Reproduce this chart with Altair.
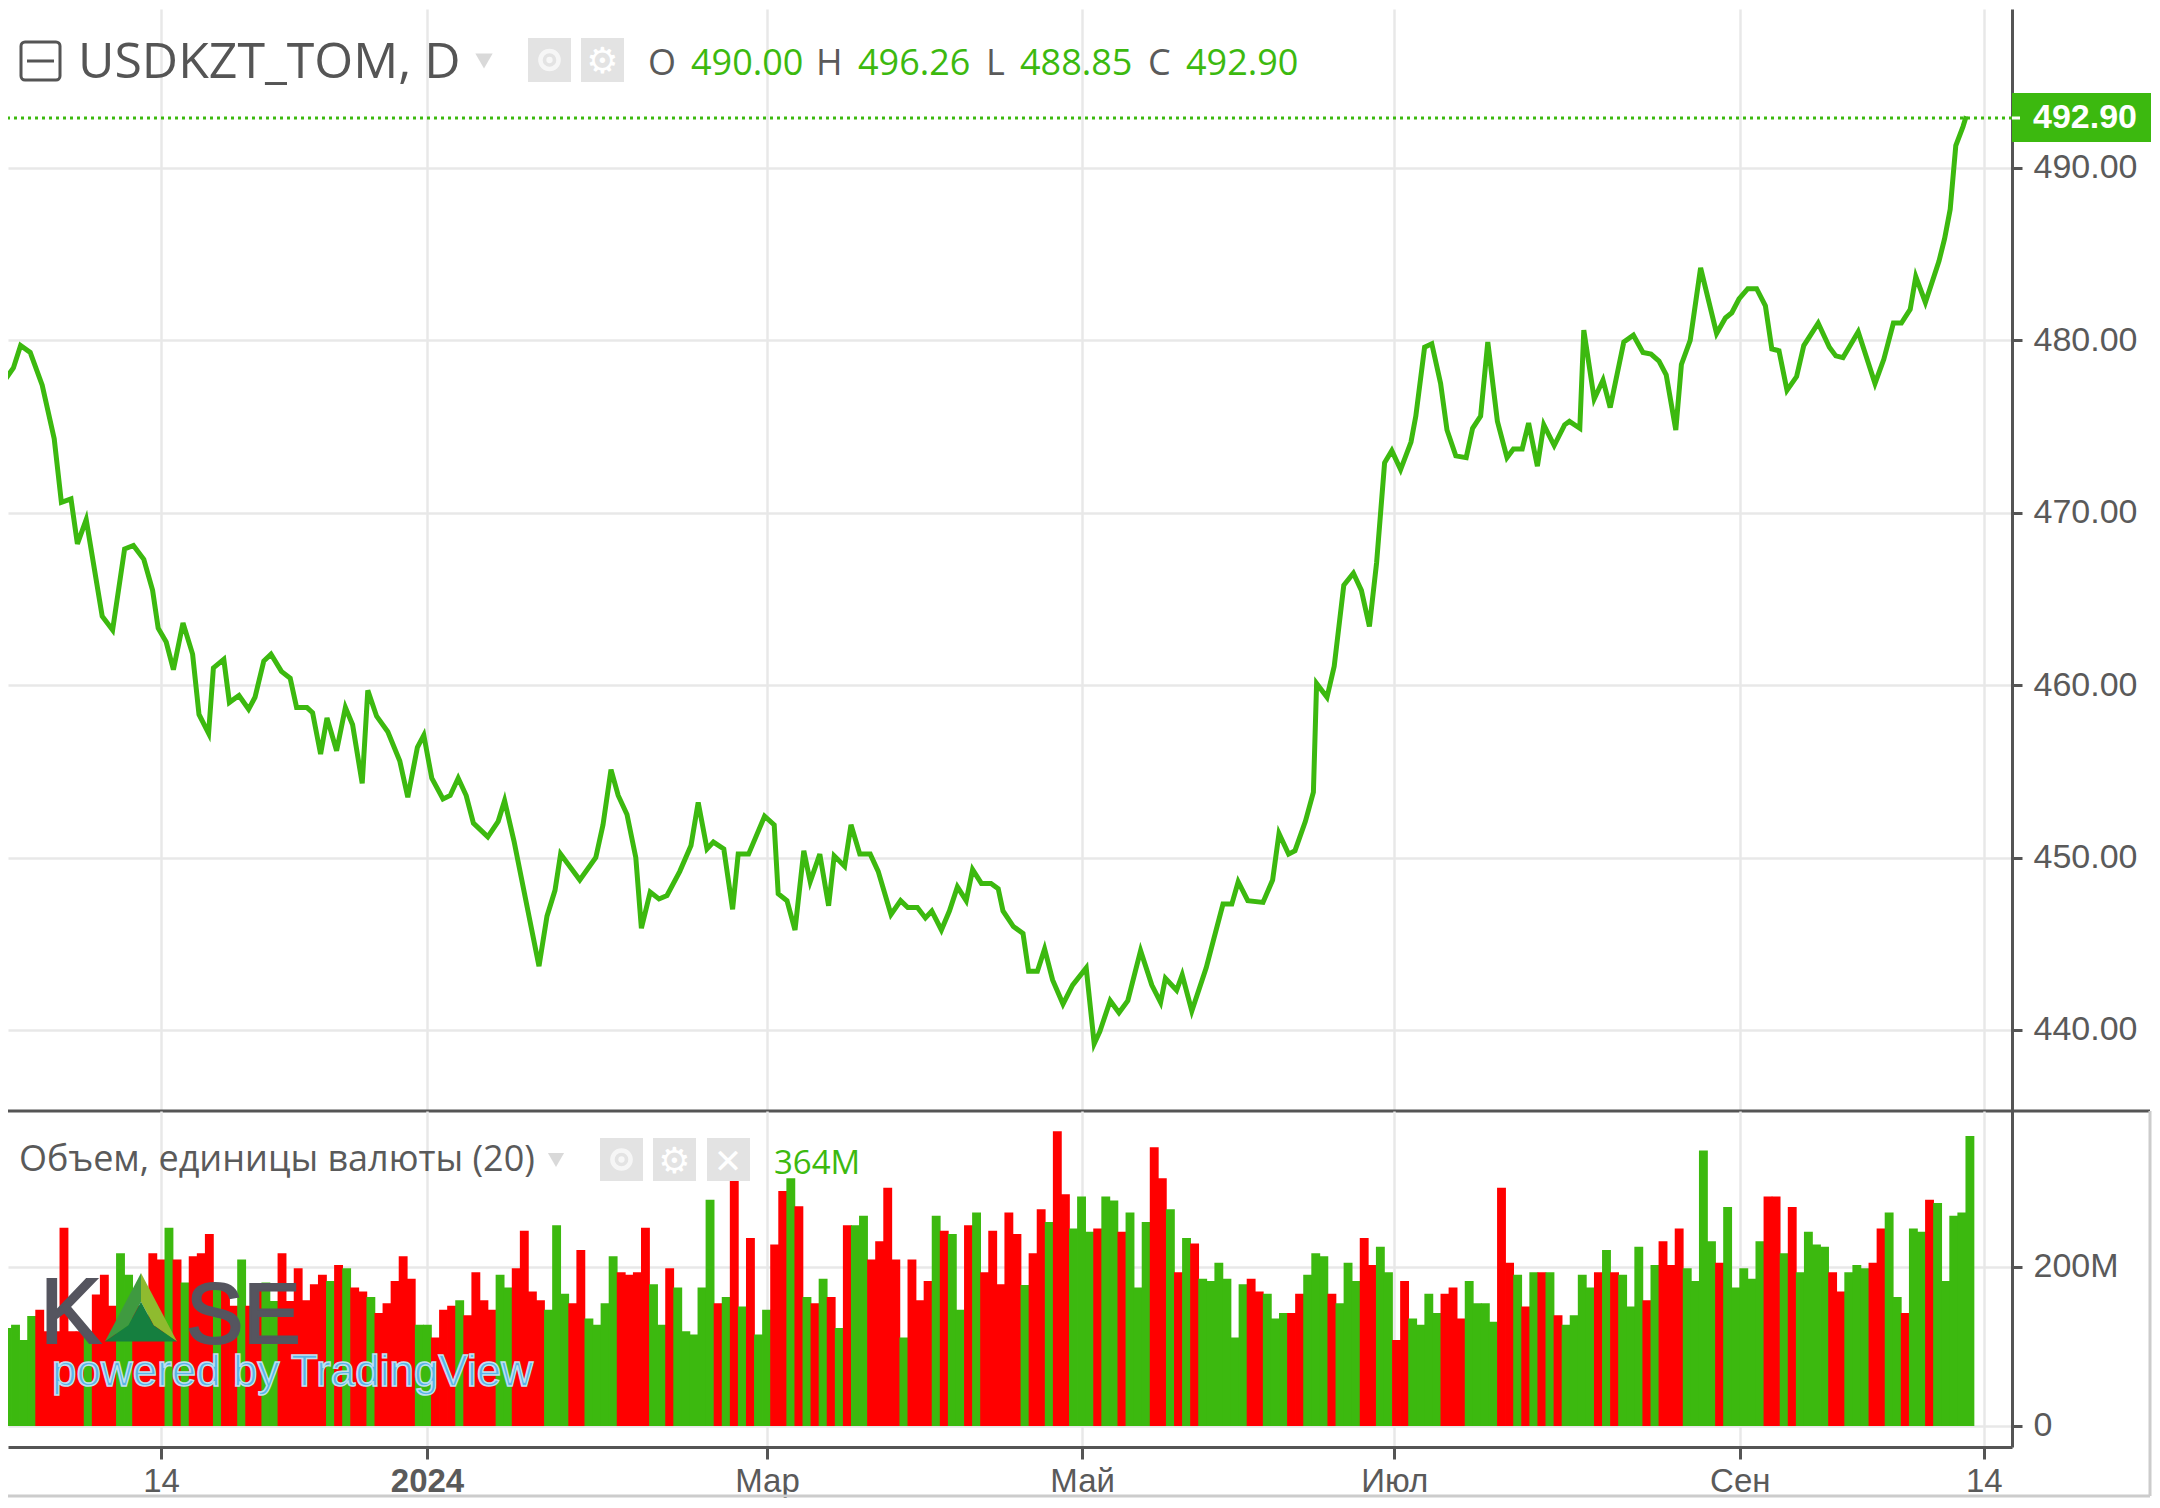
import json

import altair as alt
import pandas as pd

GREEN = "#3cb90f"
RED = "#ff0000"
GRID = "#e8e8e8"
AXIS = "#555555"
TEXT = "#5a5a5a"
ICON = "#e3e3e3"

# volume in millions, one bar per session
bar_volume = [
    123, 127, 108, 138, 146, 119, 119, 249, 119, 119, 119, 165, 190, 151, 217, 190, 151, 132, 217, 209, 249, 209,
    180, 213, 217, 241, 174, 176, 151, 209, 151, 174, 180, 157, 217, 157, 198, 158, 178, 190, 182, 202, 198, 174,
    169, 162, 142, 154, 182, 213, 185, 127, 127, 111, 146, 151, 158, 139, 193, 158, 146, 190, 174, 198, 245, 169,
    158, 146, 252, 166, 154, 221, 135, 127, 154, 213, 193, 190, 193, 249, 178, 127, 198, 174, 119, 115, 174, 284,
    154,
    162, 335, 150, 236, 115, 146, 228, 295, 311, 276, 162, 154, 185, 162, 123, 252, 252, 264, 209, 232, 299, 209,
    111, 209, 158, 182, 264, 245, 241, 146, 252, 268, 193, 245, 178, 268, 241, 177, 217, 272, 256, 370, 291, 248,
    288, 244, 248, 288, 283, 244, 268, 174, 256, 350, 311, 272, 193, 236, 229, 185, 182, 205, 185, 111, 178, 185,
    169, 166, 135, 142, 142, 166, 190, 217, 213, 166, 154, 205, 182, 236, 202, 225, 193, 108, 182, 135, 127, 166,
    142,
    166, 174, 135, 182, 154, 154, 131, 299, 205, 190, 150, 193, 193, 193, 139, 127, 139, 190, 174, 193, 221, 193,
    190, 150, 225, 158, 202, 232, 202, 248, 198, 182, 346, 232, 205, 275, 174, 198, 185, 232, 288, 288, 217, 275,
    193, 244, 228, 225, 193, 169, 193, 202, 198, 205, 248, 268, 162, 142, 248, 244, 284, 280, 182, 264, 268, 364,
]
bar_side = (
    "GGGG RRRRRR G RRR GG RRRR G R G RRR G RR G RR GG RRRRRR G R G RR G RRRRR GG RRR G RRRR GG RRRR GGG RR GGGG RRRR GG R GGGGG R"
    "G R G R GG RR G R G R G R G R GG RRRR G RRR G R GG R G RRRRR G RR G RR GGG R GG R GGG RR G R G R GGGGGG RR GGG RR GGG R GGG RR GG RR GGGG"
    "RRR GGGG RR G R G R G R GGGG R G R GGG R G RRR GGGG R GGGGG RR G R GGGG RR GGG RR GG R GG R GGGGG"
).replace(" ", "")
assert len(bar_side) == len(bar_volume)

# close price read at the visible corners of the line
line_pos = [
    0.1, 1.3, 2.2, 3.4, 4.9, 6.4, 7.3, 8.5, 9.3, 10.4, 12.4, 13.7, 15.2, 16.3, 17.6, 18.7, 19.4, 20.4, 21.3, 22.5,
    23.7, 24.5, 25.7, 26.3, 27.6, 28.3, 29.5, 30.7, 31.5, 32.6, 33.5, 34.8, 35.9, 36.7, 38.0, 38.7, 39.7, 40.5,
    41.7, 42.8, 43.7, 44.9, 45.6, 46.7, 48.1, 49.6, 50.6, 51.8, 52.6, 53.6, 55.0, 55.9, 56.9, 57.9, 58.8, 60.6,
    61.9, 62.7, 63.9, 67.0, 68.0, 69.0, 69.7, 72.1, 74.1, 75.0, 76.0, 76.9, 78.0, 79.1, 79.8, 80.9, 82.0, 83.0,
    84.6, 86.0, 86.9, 88.0, 88.8, 90.1, 91.2, 91.9, 93.2, 95.2, 96.4, 96.9, 98.0, 99.0, 100.1, 100.9, 102.1, 103.2,
    103.9, 105.2, 106.0, 107.1, 108.4, 109.4, 111.0, 112.2, 113.1, 114.3, 115.3, 116.1, 117.3, 118.3, 119.3, 120.4,
    121.2, 122.3, 123.5, 124.4, 125.0, 126.3, 127.5, 128.2, 129.3, 130.2, 131.2, 132.5, 133.7, 135.4, 136.4, 137.1,
    138.4, 139.5, 140.6, 142.2, 143.6, 144.7, 145.3, 146.7, 147.4, 148.6, 150.4, 151.3, 152.5, 153.6, 154.4, 155.6,
    157.5, 158.7, 159.5, 160.7, 161.5, 162.8, 163.8, 164.2, 165.5, 166.4, 167.6, 168.8, 169.8, 170.8, 171.7, 172.7,
    173.6, 174.7, 176.0, 176.6, 177.7, 178.6, 179.7, 180.5, 181.6, 182.9, 183.7, 184.7, 185.6, 186.8, 188.0, 188.8,
    189.9, 190.7, 191.8, 192.6, 193.9, 195.2, 195.8, 197.1, 197.6, 198.9, 200.0, 200.9, 202.6, 203.8, 205.0, 206.0,
    207.0, 207.9, 209.1, 209.8, 210.9, 212.2, 214.2, 215.3, 216.1, 217.0, 218.1, 219.2, 220.3, 221.1, 222.0, 223.0,
    224.2, 225.1, 226.9, 228.3, 229.1, 230.0, 231.9, 234.0, 235.1, 236.3, 237.3, 238.4, 239.1, 240.3, 242.0, 242.7,
    243.4, 244.1, 245.0, 245.4,
]
line_price = [
    477.6, 478.4, 479.7, 479.3, 477.4, 474.3, 470.6, 470.8, 468.2, 469.6, 464.0, 463.2, 467.9, 468.1, 467.3, 465.5,
    463.3, 462.5, 460.9, 463.6, 461.8, 458.3, 457.2, 461.0, 461.5, 459.0, 459.4, 458.6, 459.3, 461.4, 461.8, 460.8,
    460.4, 458.7, 458.7, 458.4, 456.0, 458.1, 456.2, 458.7, 457.7, 454.3, 459.7, 458.2, 457.3, 455.6, 453.5, 456.4,
    457.1, 454.6, 453.4, 453.6, 454.6, 453.6, 452.0, 451.2, 452.1, 453.3, 450.9, 443.7, 446.6, 448.1, 450.2, 448.7,
    450.0, 451.9, 455.1, 453.6, 452.5, 450.0, 445.9, 448.0, 447.6, 447.8, 449.2, 450.7, 453.2, 450.5, 450.9, 450.5,
    447.0, 450.2, 450.2, 452.4, 451.9, 447.9, 447.5, 445.8, 450.4, 448.6, 450.2, 447.2, 450.1, 449.5, 451.9, 450.2,
    450.2, 449.2, 446.7, 447.5, 447.1, 447.1, 446.5, 446.9, 445.8, 446.9, 448.3, 447.5, 449.3, 448.5, 448.5, 448.2,
    446.9, 446.0, 445.6, 443.4, 443.4, 444.7, 442.9, 441.5, 442.6, 443.6, 439.2, 439.9, 441.7, 441.0, 441.7, 444.6,
    442.6, 441.6, 443.0, 442.3, 443.2, 441.1, 443.6, 445.2, 447.3, 447.3, 448.6, 447.5, 447.4, 448.7, 451.4, 450.2,
    450.4, 452.1, 453.8, 460.1, 459.3, 461.1, 465.8, 466.5, 465.5, 463.4, 467.1, 472.9, 473.6, 472.5, 474.1, 475.6,
    479.6, 479.8, 477.5, 474.8, 473.3, 473.2, 474.9, 475.6, 479.9, 475.3, 473.2, 473.7, 473.7, 475.2, 472.7, 475.1,
    473.9, 475.1, 475.3, 474.9, 480.6, 476.6, 477.7, 476.1, 479.9, 480.3, 479.3, 479.2, 478.8, 478.0, 474.8, 478.6,
    480.0, 484.2, 480.4, 481.3, 481.6, 482.4, 483.0, 483.0, 482.0, 479.5, 479.4, 477.1, 477.9, 479.7, 481.0, 479.6,
    479.1, 479.0, 480.5, 477.5, 478.9, 481.0, 481.0, 481.8, 483.7, 482.2, 484.6, 485.9, 487.6, 491.3, 492.4, 493.0,
]
assert len(line_pos) == len(line_price)

last_price = [492.90]
price_ticks = [440, 450, 460, 470, 480, 490]
volume_ticks = [0, 200]
date_ticks = [19.75, 53, 95.5, 134.9, 173.9, 217.1, 247.6]
date_labels = ["14", "2024", "Мар", "Май", "Июл", "Сен", "14"]

ohlc_letters = ["O", "H", "L", "C"]
ohlc_values = ["490.00", "496.26", "488.85", "492.90"]

BAR_STEP = 1.0095  # one session in line_pos units
X_DOMAIN = [0.625, 251.125]
WIDTH = 2004
TOP_HEIGHT = 1102
BOTTOM_HEIGHT = 336
TOP_Y = 8
BOTTOM_Y = 1110

bars = pd.DataFrame(
    {
        "left": [i * BAR_STEP for i in range(len(bar_volume))],
        # a hair of overlap so neighbouring bars of one colour read as solid
        "right": [(i + 1) * BAR_STEP + 0.1 for i in range(len(bar_volume))],
        "volume": bar_volume,
        "base": [0] * len(bar_volume),
        "side": list(bar_side),
    }
)
line = pd.DataFrame({"pos": line_pos, "price": line_price})
last = pd.DataFrame({"price": last_price, "text": ["492.90"]})
one = pd.DataFrame({"a": [0]})

label_expr = f"{json.dumps(date_labels, ensure_ascii=False)}[indexof({json.dumps(date_ticks)}, datum.value)]"


def label(text, x, y, top, size, color=TEXT, font="Open Sans", weight="normal", align="left", **kw):
    return (
        alt.Chart(pd.DataFrame({"t": [text]}))
        .mark_text(align=align, baseline="alphabetic", font=font, fontSize=size, color=color, fontWeight=weight, **kw)
        .encode(x=alt.value(x - 8), y=alt.value(y - top), text="t:N")
    )


def box(x0, x1, y0, y1, top, **kw):
    return (
        alt.Chart(one)
        .mark_rect(**kw)
        .encode(x=alt.value(x0 - 8), x2=alt.value(x1 - 8), y=alt.value(y0 - top), y2=alt.value(y1 - top))
    )


def bar_line(x0, x1, y0, y1, top, color=AXIS, width=3.0):
    return (
        alt.Chart(one)
        .mark_rule(color=color, strokeWidth=width)
        .encode(x=alt.value(x0 - 8), x2=alt.value(x1 - 8), y=alt.value(y0 - top), y2=alt.value(y1 - top))
    )


def dot(x, y, top, **kw):
    return alt.Chart(one).mark_point(**kw).encode(x=alt.value(x - 8), y=alt.value(y - top))


def eye_gear(x_eye, x_gear, y0, y1, top):
    mid = (y0 + y1) / 2
    return [
        box(x_eye, x_eye + 43, y0, y1, top, color=ICON),
        dot(x_eye + 21.5, mid, top, shape="circle", size=330, color="white", strokeWidth=4.5, filled=False),
        dot(x_eye + 21.5, mid, top, shape="circle", size=40, color="white", filled=True),
        box(x_gear, x_gear + 43, y0, y1, top, color=ICON),
        label("⚙", x_gear + 21.5, mid + 13, top, 36, color="white", font="DejaVu Sans", align="center"),
    ]


price_axis = alt.Axis(
    orient="right", values=price_ticks, format=".2f", title="", grid=True, gridColor=GRID, gridWidth=2.5,
    domainColor=AXIS, domainWidth=3, tickColor=AXIS, tickWidth=3, tickSize=10, labelPadding=11,
    labelColor=TEXT, labelFont="Liberation Sans", labelFontSize=34, labelBaseline="middle",
)
top_x_axis = alt.Axis(values=date_ticks, title="", labels=False, ticks=False, domain=False, grid=True,
                      gridColor=GRID, gridWidth=2.5)

price_line = (
    alt.Chart(line)
    .mark_line(color=GREEN, strokeWidth=5, clip=True, strokeJoin="miter")
    .encode(
        x=alt.X("pos:Q", scale=alt.Scale(domain=X_DOMAIN, nice=False, zero=False), axis=top_x_axis),
        y=alt.Y("price:Q", scale=alt.Scale(domain=[435.3, 499.22], nice=False, zero=False), axis=price_axis),
    )
)
last_rule = alt.Chart(last).mark_rule(color=GREEN, strokeWidth=3, strokeDash=[3, 4]).encode(y="price:Q")
last_text = (
    alt.Chart(last)
    .mark_text(align="center", baseline="middle", font="Liberation Sans", fontSize=34, fontWeight="bold", color="white")
    .encode(x=alt.value(2085 - 8), y="price:Q", text="text:N")
)

top_layers = [
    price_line,
    last_rule,
    box(2012, 2151, 92, 141, TOP_Y, color=GREEN),
    bar_line(2012, 2020, 117, 117, TOP_Y, color="white", width=3),
    last_text,
    box(21, 60, 41, 79, TOP_Y, fill="white", stroke=AXIS, strokeWidth=3, cornerRadius=4),
    bar_line(27, 54, 60, 60, TOP_Y, width=3),
    label("USDKZT_TOM, D", 78, 77, TOP_Y, 50, color="#555555"),
    dot(484, 60, TOP_Y, shape="triangle-down", size=300, color="#c9c9c9", filled=True),
    *eye_gear(528, 581, 37, 81, TOP_Y),
    bar_line(8, 2150, 1110, 1110, TOP_Y),
]
x_px = [648, 691, 816, 858, 986, 1020, 1148, 1186]
for i in range(4):
    top_layers.append(label(ohlc_letters[i], x_px[2 * i], 74, TOP_Y, 36))
    top_layers.append(label(ohlc_values[i], x_px[2 * i + 1], 74, TOP_Y, 36, color=GREEN))

top = alt.layer(*top_layers).properties(width=WIDTH, height=TOP_HEIGHT)

volume_axis = alt.Axis(
    orient="right", values=volume_ticks, title="", grid=True, gridColor=GRID, gridWidth=2.5,
    labelExpr="datum.value == 0 ? '0' : datum.value + 'M'",
    domainColor=AXIS, domainWidth=3, tickColor=AXIS, tickWidth=3, tickSize=10, labelPadding=11,
    labelColor=TEXT, labelFont="Liberation Sans", labelFontSize=34, labelBaseline="middle",
)
bottom_x_axis = alt.Axis(
    values=date_ticks, title="", labelExpr=label_expr, grid=True, gridColor=GRID, gridWidth=2.5,
    domainColor=AXIS, domainWidth=3, tickColor=AXIS, tickWidth=3, tickSize=12, labelPadding=6,
    labelColor=TEXT, labelFont="Liberation Sans", labelFontSize=33, labelOverlap=False, labelFlush=False,
    labelFontWeight={"condition": {"test": "datum.value == 53", "value": "bold"}, "value": "normal"},
)
volume_bars = (
    alt.Chart(bars)
    .mark_rect(clip=True)
    .encode(
        x=alt.X("left:Q", scale=alt.Scale(domain=X_DOMAIN, nice=False, zero=False), axis=bottom_x_axis),
        x2="right:Q",
        y=alt.Y("volume:Q", scale=alt.Scale(domain=[-26.4, 395.5], nice=False, zero=False), axis=volume_axis),
        y2="base:Q",
        color=alt.Color("side:N", scale=alt.Scale(domain=["G", "R"], range=[GREEN, RED]), legend=None),
    )
)


def logo_piece(path, color):
    return dot(141, 1308, BOTTOM_Y, shape=path, size=5184, color=color, filled=True, opacity=1, strokeWidth=0)


bottom_layers = [
    volume_bars,
    label("Объем, единицы валюты (20)", 19, 1170, BOTTOM_Y, 36),
    dot(556, 1159, BOTTOM_Y, shape="triangle-down", size=260, color="#c9c9c9", filled=True),
    *eye_gear(600, 653, 1137, 1180, BOTTOM_Y),
    box(707, 750, 1137, 1180, BOTTOM_Y, color=ICON),
    label("✕", 728, 1172, BOTTOM_Y, 34, color="white", font="DejaVu Sans", align="center"),
    label("364M", 774, 1173, BOTTOM_Y, 33, color=GREEN),
    label("K", 40, 1342, BOTTOM_Y, 92, color="#55555f", font="Liberation Sans", stroke="#55555f", strokeWidth=2),
    logo_piece("M 0 -1 L -1 0.9 L -0.35 0.45 L 0 -0.2 Z", "#3f9a40"),
    logo_piece("M 0 -1 L 1 0.9 L 0.35 0.45 L 0 -0.2 Z", "#8fbb2f"),
    logo_piece("M 0 -0.2 L -0.35 0.45 L -1 0.9 L 1 0.9 L 0.35 0.45 Z", "#157f3f"),
    label("SE", 186, 1342, BOTTOM_Y, 86, color="#55555f", font="Liberation Sans", stroke="#55555f", strokeWidth=2),
    label("powered by TradingView", 52, 1385, BOTTOM_Y, 44, color="#5ab4e8", font="Liberation Sans",
          stroke="#bfe0f0", strokeWidth=1.5),
    bar_line(2150, 2150, 1110, 1495, BOTTOM_Y, color="#cccccc", width=3),
    bar_line(8, 2150, 1495, 1495, BOTTOM_Y, color="#cccccc", width=3),
]
bottom = alt.layer(*bottom_layers).properties(width=WIDTH, height=BOTTOM_HEIGHT)

chart = (
    alt.vconcat(top, bottom, spacing=0, bounds="flush")
    .properties(padding={"left": -2, "top": 1, "right": 0, "bottom": 0}, background="white")
    .configure_view(strokeWidth=0)
)

chart.save("out.html", embed_options={"renderer": "svg", "actions": False})
